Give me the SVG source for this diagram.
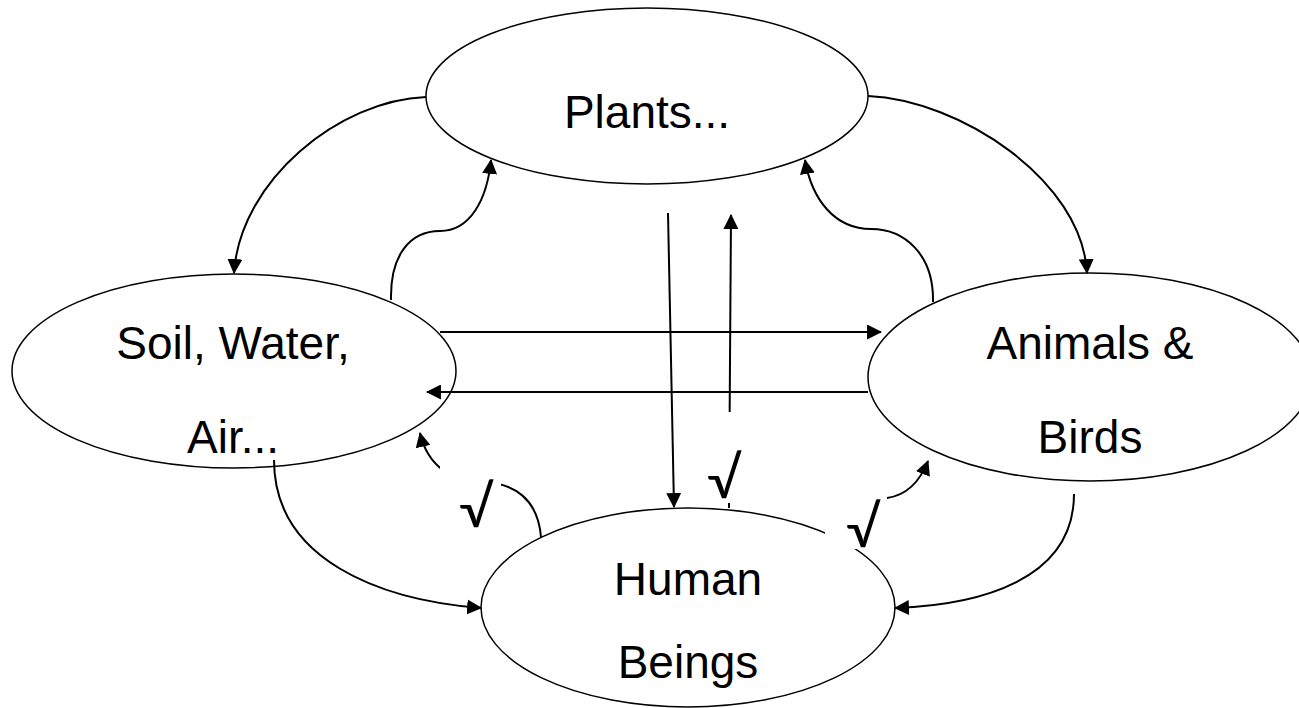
<svg xmlns="http://www.w3.org/2000/svg" width="1299" height="708" viewBox="0 0 1299 708">
  <style>
    .node ellipse { fill: #ffffff; stroke: #000000; stroke-width: 1.5; }
    .node text { font-family: "Liberation Sans", Arial, sans-serif; font-size: 46px; fill: #000000; text-anchor: middle; }
    .edge { fill: none; stroke: #000000; stroke-width: 2; }
    .arr { marker-end: url(#arrow); }
    .lblbg { fill: #ffffff; stroke: none; }
    .lbl { font-family: Lato, "Open Sans", sans-serif; font-size: 56px; fill: #000000; }
  </style>
  <defs>
    <marker id="arrow" markerUnits="userSpaceOnUse" markerWidth="15" markerHeight="15" viewBox="0 0 14 14" refX="13" refY="7" orient="auto">
      <path d="M0,0 L14,7 L0,14 z" fill="#000000"/>
    </marker>
  </defs>
  <rect x="0" y="0" width="1299" height="708" fill="#ffffff"/>

  <g id="node-plants" class="node">
    <ellipse cx="647" cy="96" rx="221" ry="88"/>
    <text x="647" y="128">Plants...</text>
  </g>
  <g id="node-soil" class="node">
    <ellipse cx="234" cy="371" rx="222" ry="97"/>
    <text x="233" y="359">Soil, Water,</text>
    <text x="233" y="453">Air...</text>
  </g>
  <g id="node-animals" class="node">
    <ellipse cx="1090" cy="377" rx="222" ry="104"/>
    <text x="1090" y="359">Animals &amp;</text>
    <text x="1090" y="453">Birds</text>
  </g>
  <g id="node-human" class="node">
    <ellipse cx="688" cy="607.5" rx="207" ry="99.5"/>
    <text x="688" y="595">Human</text>
    <text x="688" y="678">Beings</text>
  </g>

  <g id="connectors">
    <path class="edge arr" d="M426,97 C340,100 240,180 234,273"/>
    <path class="edge arr" d="M868,96 C960,100 1082,180 1087,273"/>
    <path class="edge arr" d="M391,300 C390,255 410,231 440,231 C470,231 487,200 491,160"/>
    <path class="edge arr" d="M933,302 C934,255 905,229 871,229 C835,229 812,200 805,160"/>
    <path class="edge arr" d="M668,213 L674,507"/>
    <path class="edge arr" d="M729,508 L731,215"/>
    <path class="edge arr" d="M440,332 L881,332"/>
    <path class="edge arr" d="M868,392 L427,392"/>
    <path class="edge arr" d="M274,460 C274,560 380,600 481,608"/>
    <path class="edge arr" d="M1074,494 C1074,580 980,605 895,608"/>
    <path class="edge arr" d="M541,537 C538,500 515,482 480,482 C455,482 428,468 420,433"/>
    <path class="edge arr" d="M840,541 C860,505 870,499 887,498 Q915,494 928,461"/>
  </g>

  <g id="edge-labels">
    <g id="label-left">
      <rect class="lblbg" x="440" y="455" width="61" height="78"/>
      <text class="lbl" x="459" y="527">√</text>
    </g>
    <g id="label-middle">
      <rect class="lblbg" x="706" y="412" width="46" height="91"/>
      <text class="lbl" x="707" y="498">√</text>
    </g>
    <g id="label-right">
      <rect class="lblbg" x="825" y="496" width="62" height="53"/>
      <text class="lbl" x="846" y="547">√</text>
    </g>
  </g>
</svg>
